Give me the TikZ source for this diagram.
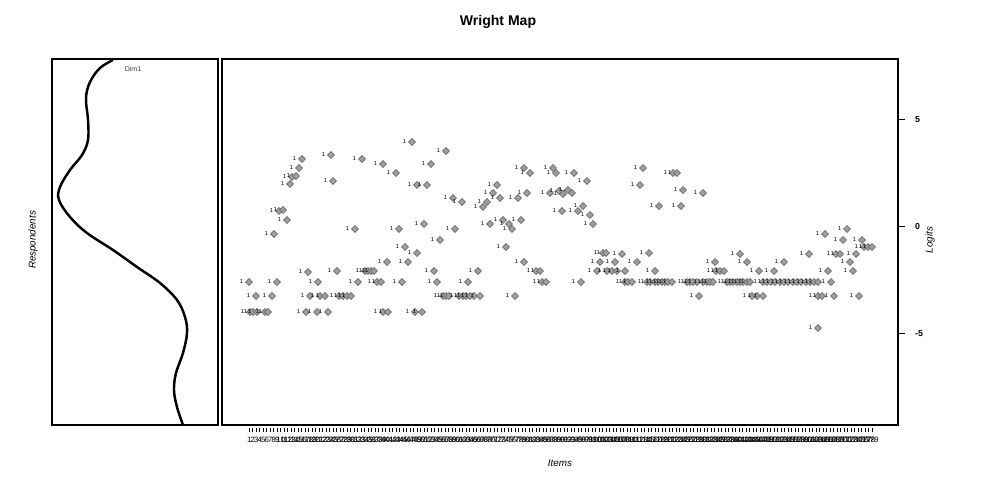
\documentclass[tikz,border=0pt]{standalone}
\usepackage{fontspec}
\setmainfont{Liberation Sans}
\usetikzlibrary{shapes.geometric}

\begin{document}
\begin{tikzpicture}[
  x=0.02cm, y=-0.02cm,
  frame/.style={draw, line width=0.7pt},
  lbl/.style={font=\fontsize{3.3}{3.3}\selectfont, inner sep=0pt, label distance=1pt},
  pt/.style={diamond, draw=black!62, fill=black!38, line width=0.25pt,
    inner sep=0pt, minimum size=4.1pt, label={[lbl]left:1}},
  itemlbl/.style={font=\fontsize{4.4}{4.4}\selectfont, inner sep=0pt, text=black},
  axlbl/.style={font=\fontsize{5.6}{6}\selectfont\itshape},
  ]
  \useasboundingbox (0,0) rectangle (1000,500);
  \node[font=\fontsize{8}{9}\selectfont\bfseries] (title) at (498,22) {Wright Map};

  % respondents panel
  \draw[frame] (52,59) rectangle (218,425);
  \node[font=\fontsize{4}{4}\selectfont, text=black!75] (dim) at (133,69) {Dim1};
  \node[axlbl, rotate=90] (resp) at (33,240) {Respondents};
  \draw[line width=1.4pt] plot[smooth, tension=0.6] coordinates {
    (113,60) (100,68) (90,82) (86,98) (88,120) (88,140) (82,155) (70,170)
    (60,187) (59,200) (70,217) (87,233) (113,250) (137,267) (160,283)
    (177,300) (185,317) (187,333) (183,353) (176,373) (174,390) (177,407) (183,425)};

  % items panel
  \draw[frame] (222,59) rectangle (898,425);
  \foreach \v/\t in {5/5, 0/0, -5/-5}{
    \draw[line width=0.7pt] (898,{226.7-21.4*\v}) -- (905,{226.7-21.4*\v});
    \node[font=\fontsize{5}{5}\selectfont\bfseries, anchor=west] at (909,{226.7-21.4*\v}) {\t};
  }
  \node[axlbl, rotate=90] (logits) at (930,240) {Logits};
  \node[axlbl] (items) at (560,463) {Items};
  \foreach \i in {1,...,179}{
    \draw[line width=0.45pt] ({249.3+(\i-1)*3.5},428) -- ({249.3+(\i-1)*3.5},432);
    \node[itemlbl] at ({249.3+(\i-1)*3.5},440) {\i};
  }

  % thresholds
  \foreach \x/\y in {
    412/142, 302/159, 331/155, 362/159, 383/164, 299/168, 396/173,
    292/177, 296/176, 290/184, 333/181, 417/185, 279/211, 283/210,
    287/220, 274/234, 355/229, 399/229, 405/247, 417/253, 387/262, 408/262,
    308/272, 337/271, 365/271, 368/271, 371/271, 374/271,
    249/282, 277/282, 318/282, 358/282, 377/282, 381/282, 402/282,
    256/296, 272/296, 310/296, 320/296, 325/296, 339/296, 343/296, 347/296, 351/296,
    250/312, 253/312, 257/312, 265/312, 268/312, 306/312, 317/312, 328/312,
    383/312, 388/312, 415/312,
    446/151, 431/164, 427/185, 524/168, 530/173, 553/168, 556/173, 574/173, 587/181,
    497/185, 493/193, 500/198, 453/198, 462/202, 487/202, 483/207, 518/198,
    527/193, 550/193, 559/191, 568/190, 572/193, 563/194,
    424/224, 455/229, 440/240, 490/224, 503/220, 509/224, 512/229, 521/220,
    562/211, 578/211, 583/206, 590/215, 593/224, 506/247, 524/262,
    434/271, 478/271, 536/271, 540/271, 437/282, 468/282, 542/282, 546/282, 581/282,
    443/296, 446/296, 449/296, 459/296, 463/296, 466/296, 470/296, 474/296, 480/296,
    515/296, 422/312,
    603/253, 606/253, 600/262, 615/262, 597/271, 607/271, 612/271, 617/271, 625/271,
    643/168, 673/173, 677/173, 640/185, 683/190, 703/193, 659/206, 681/206,
    622/254, 649/253, 637/262, 655/271,
    625/282, 628/282, 632/282, 647/282, 650/282, 655/282, 658/282, 662/282,
    665/282, 668/282, 672/282,
    687/282, 690/282, 693/282, 697/282, 703/282, 707/282, 710/282, 713/282,
    727/282, 730/282, 733/282, 737/282, 740/282, 743/282, 747/282, 750/282,
    763/282, 767/282, 771/282, 775/282, 780/282, 784/282, 788/282, 793/282,
    797/282, 801/282, 806/282, 810/282, 814/282, 818/282,
    715/262, 740/254, 747/262, 784/262, 809/254,
    716/271, 720/271, 724/271, 759/271, 774/271,
    699/296, 752/296, 757/296, 763/296, 818/296, 818/328,
    847/229, 825/234, 843/240, 862/240, 864/247, 868/247, 872/247,
    836/254, 840/254, 856/254, 850/262, 828/271, 853/271, 831/282,
    822/296, 834/296, 859/296}
    \node[pt] at (\x,\y) {};
\end{tikzpicture}
\end{document}
